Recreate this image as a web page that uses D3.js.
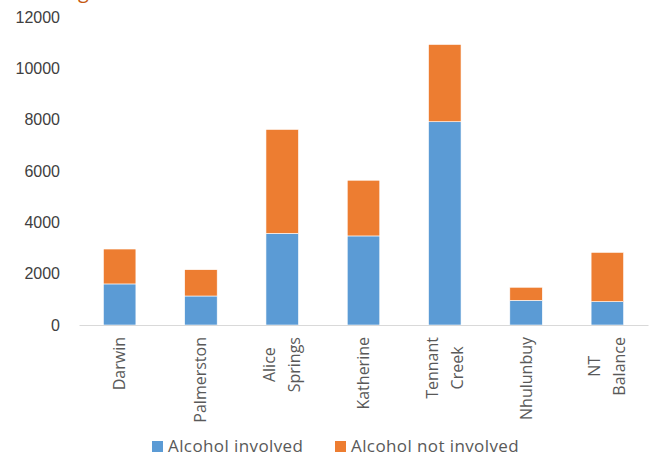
<!DOCTYPE html>
<html>
<head>
<meta charset="utf-8">
<script src="https://cdn.jsdelivr.net/npm/d3@7"></script>
<style>
  body { margin: 0; background: #fff; }
  text { font-family: "Open Sans", "Liberation Sans", sans-serif; fill: #595959; }
</style>
</head>
<body>
<div id="chart"></div>
<script>
// ---- DATA ----
const categories = ["Darwin", "Palmerston", "Alice\nSprings", "Katherine", "Tennant\nCreek", "Nhulunbuy", "NT\nBalance"];
const alcoholInvolved = [1600, 1130, 3570, 3470, 7920, 960, 910];
const alcoholNotInvolved = [1360, 1025, 4050, 2170, 3010, 510, 1920];
const seriesNames = ["Alcohol involved", "Alcohol not involved"];
const yTicks = [0, 2000, 4000, 6000, 8000, 10000, 12000];

const width = 655;
const height = 457;
const margin = { top: 17, right: 7, bottom: 132, left: 79 };
const colors = ["#5b9bd5", "#ed7d31"];

const svg = d3.select("#chart")
  .append("svg")
  .attr("width", width)
  .attr("height", height);

// cropped title remnant (title sits above the visible area in the reference)
svg.append("text")
  .attr("x", 78)
  .attr("y", -2)
  .style("font-size", "20px")
  .style("fill", "#c55a11")
  .text("g");

// ---- SCALES ----
const x = d3.scaleBand()
  .domain(categories)
  .range([margin.left, width - margin.right])
  .paddingInner(0.6)
  .paddingOuter(0.3);

const y = d3.scaleLinear()
  .domain([0, 12000])
  .range([height - margin.bottom, margin.top]);

// ---- STACK ----
const table = categories.map((c, i) => ({ cat: c, a: alcoholInvolved[i], b: alcoholNotInvolved[i] }));
const stacked = d3.stack().keys(["a", "b"])(table);

// ---- Y AXIS (labels only) ----
const yAxis = svg.append("g")
  .attr("transform", `translate(${margin.left},0)`)
  .call(d3.axisLeft(y).tickValues(yTicks).tickFormat(d3.format("d")).tickSize(0).tickPadding(19));
yAxis.select(".domain").remove();
yAxis.selectAll("text")
  .style("font-family", "'Liberation Sans', Arial, sans-serif")
  .style("font-size", "16px")
  .style("fill", "#404040");

// ---- BARS ----
svg.selectAll("g.series")
  .data(stacked)
  .enter()
  .append("g")
  .attr("class", "series")
  .attr("fill", (d, i) => colors[i])
  .selectAll("rect")
  .data(d => d)
  .enter()
  .append("rect")
  .attr("x", d => x(d.data.cat))
  .attr("y", d => y(d[1]))
  .attr("width", x.bandwidth())
  .attr("height", d => y(d[0]) - y(d[1]))
  .attr("stroke", "#fff")
  .attr("stroke-width", 0.6);

// ---- X AXIS ----
const xAxis = svg.append("g")
  .attr("transform", `translate(0,${y(0)})`)
  .call(d3.axisBottom(x).tickSize(0).tickFormat(""));
xAxis.select(".domain").attr("stroke", "#d9d9d9").attr("stroke-width", 1.2);

// rotated, multi-line category labels
categories.forEach(c => {
  const lines = c.split("\n");
  const cx = x(c) + x.bandwidth() / 2;
  const g = svg.append("g")
    .attr("transform", `translate(${cx},${y(0) + 12}) rotate(-90)`);
  const texts = lines.map((l, i) => g.append("text")
    .attr("text-anchor", "middle")
    .attr("dy", ((i - (lines.length - 1) / 2) * 25 + 5.5) + "px")
    .style("font-size", "16px")
    .text(l));
  const maxLen = d3.max(texts, t => t.node().getComputedTextLength());
  texts.forEach(t => t.attr("x", -maxLen / 2));
});

// ---- LEGEND ----
const legendX = [152, 335];
seriesNames.forEach((name, i) => {
  const lg = svg.append("g").attr("transform", `translate(${legendX[i]},441)`);
  lg.append("rect")
    .attr("width", 11)
    .attr("height", 11)
    .attr("fill", colors[i]);
  lg.append("text")
    .attr("x", 16)
    .attr("y", 11)
    .style("font-size", "17px")
    .style("letter-spacing", "0.4px")
    .text(name);
});
</script>
</body>
</html>
